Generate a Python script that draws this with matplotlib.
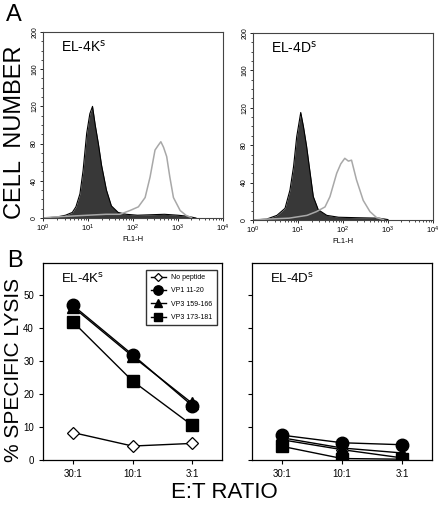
import matplotlib
matplotlib.use("Agg")
import matplotlib.pyplot as plt
import numpy as np

plt.rcParams['font.family'] = ['Liberation Sans', 'DejaVu Sans']

# --- panel A: flow histograms (log10 FL1-H, cell count) ---
ks_fill_x = [0.0, 0.3, 0.5, 0.65, 0.73, 0.82, 0.89, 0.97, 1.04, 1.10, 1.16, 1.23, 1.30,
             1.41, 1.52, 1.67, 1.85, 2.1, 2.4, 2.7, 3.0, 3.2, 3.4]
ks_fill_y = [0, 1, 3, 6, 12, 26, 51, 91, 112, 120, 100, 80, 57,
             30, 13, 6, 4, 3, 3.5, 4, 3, 2, 0]
ks_open_x = [0.0, 0.2, 0.6, 1.0, 1.4, 1.71, 1.93, 2.12, 2.27, 2.38, 2.49, 2.56, 2.62,
             2.68, 2.75, 2.82, 2.90, 3.05, 3.19, 3.3]
ks_open_y = [0, 1, 2, 3, 4, 4, 8, 12, 22, 44, 73, 78, 82,
             76, 66, 44, 22, 8, 2.5, 0.5]

ds_fill_x = [0.0, 0.3, 0.53, 0.71, 0.82, 0.90, 0.97, 1.06, 1.12, 1.19, 1.27, 1.34,
             1.45, 1.64, 1.9, 2.3, 2.8, 3.0]
ds_fill_y = [0, 1, 5, 12.5, 32, 57, 89, 115, 100, 79, 50, 25,
             11, 5, 3, 2.5, 2, 0.5]
ds_open_x = [0.0, 0.3, 0.8, 1.2, 1.41, 1.60, 1.71, 1.86, 1.95, 2.04, 2.12, 2.19,
             2.30, 2.45, 2.60, 2.75, 2.9]
ds_open_y = [0, 1, 2, 5, 9, 14, 25, 50, 60, 66, 63, 64,
             43, 21, 9, 2.5, 0.5]

# --- panel B: % specific lysis ---
ratios = ["30:1", "10:1", "3:1"]
series = ["No peptide", "VP1 11-20", "VP3 159-166", "VP3 173-181"]
ks_lysis = {
    "No peptide": [8.3, 4.2, 5.0],
    "VP1 11-20": [47.0, 32.0, 16.5],
    "VP3 159-166": [46.5, 31.5, 17.2],
    "VP3 173-181": [42.0, 24.0, 10.5],
}
ds_lysis = {
    "No peptide": [6.1, 3.1, 0.6],
    "VP1 11-20": [7.5, 5.2, 4.6],
    "VP3 159-166": [6.7, 3.6, 2.1],
    "VP3 173-181": [4.1, 0.4, 0.2],
}
styles = {
    "No peptide": dict(marker="D", mfc="white", mec="black", ms=6, mew=0.9),
    "VP1 11-20": dict(marker="o", mfc="black", mec="black", ms=9),
    "VP3 159-166": dict(marker="^", mfc="black", mec="black", ms=8),
    "VP3 173-181": dict(marker="s", mfc="black", mec="black", ms=8.5),
}

fig = plt.figure(figsize=(4.44, 5.07), dpi=100)


def histo(ax, fx, fy, ox, oy, name):
    fx = 10 ** np.array(fx)
    ox = 10 ** np.array(ox)
    ax.fill_between(fx, 0, fy, color="#383838", lw=0)
    ax.plot(fx, fy, color="black", lw=0.8)
    ax.plot(ox, oy, color="#a8a8a8", lw=1.1)
    ax.set_xscale("log")
    ax.set_xlim(1, 1e4)
    ax.set_ylim(0, 200)
    ax.set_yticks([0, 40, 80, 120, 160, 200])
    ax.set_yticks(np.arange(0, 201, 10), minor=True)
    ax.tick_params(axis="y", labelsize=5, rotation=90, length=2.5, width=0.6, pad=1)
    ax.tick_params(axis="y", which="minor", length=1.5, width=0.5)
    ax.tick_params(axis="x", labelsize=5.5, length=2.5, width=0.6, pad=1)
    ax.tick_params(axis="x", which="minor", length=1.5, width=0.5)
    for lab in ax.get_yticklabels():
        lab.set_va("center")
    ax.set_xlabel("FL1-H", fontsize=5.5, labelpad=1)
    ax.text(0.1, 0.92, name, transform=ax.transAxes, fontsize=10, va="center")
    for s in ax.spines.values():
        s.set_linewidth(0.8)
        s.set_color("#444444")


ax1 = fig.add_axes([0.097, 0.570, 0.405, 0.367])
histo(ax1, ks_fill_x, ks_fill_y, ks_open_x, ks_open_y, "EL-4K$^{\\rm s}$")
ax2 = fig.add_axes([0.570, 0.566, 0.405, 0.369])
histo(ax2, ds_fill_x, ds_fill_y, ds_open_x, ds_open_y, "EL-4D$^{\\rm s}$")


def lysis(ax, data, name, legend=False):
    x = np.arange(len(ratios))
    for s in series:
        ax.plot(x, data[s], color="black", lw=1.0, label=s, **styles[s])
    ax.set_xlim(-0.5, 2.5)
    ax.set_ylim(0, 60)
    ax.set_xticks(x)
    ax.set_xticklabels(ratios)
    ax.set_yticks([0, 10, 20, 30, 40, 50])
    ax.tick_params(labelsize=7, length=3, width=0.8)
    ax.text(0.1, 0.92, name, transform=ax.transAxes, fontsize=9.5, va="center")
    for s in ax.spines.values():
        s.set_linewidth(0.9)
    if legend:
        ax.legend(loc="upper right", fontsize=5, frameon=True, fancybox=False,
                  edgecolor="black", borderpad=0.6, labelspacing=0.9,
                  handlelength=2.2, markerscale=0.75, bbox_to_anchor=(0.99, 0.98))


ax3 = fig.add_axes([0.097, 0.093, 0.403, 0.389])
lysis(ax3, ks_lysis, "EL-4K$^{\\rm s}$", legend=True)
ax4 = fig.add_axes([0.568, 0.093, 0.405, 0.389])
lysis(ax4, ds_lysis, "EL-4D$^{\\rm s}$")
ax4.set_yticklabels([])

fig.text(0.032, 0.97, "A", fontsize=17, va="center", ha="center")
fig.text(0.034, 0.485, "B", fontsize=17, va="center", ha="center")
fig.text(0.034, 0.740, "CELL  NUMBER", fontsize=17, rotation=90, va="center", ha="center")
fig.text(0.030, 0.270, "% SPECIFIC LYSIS", fontsize=15, rotation=90, va="center", ha="center")
fig.text(0.505, 0.028, "E:T RATIO", fontsize=16, va="center", ha="center")

fig.savefig("out.png", dpi=100)
